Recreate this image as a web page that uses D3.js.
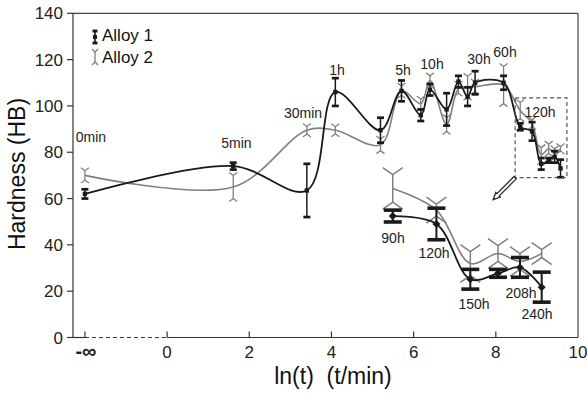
<!DOCTYPE html>
<html>
<head>
<meta charset="utf-8">
<script src="https://cdn.jsdelivr.net/npm/d3@7"></script>
<style>
  body { margin: 0; background: #fff; }
  svg { display: block; font-family: "Liberation Sans", Arial, sans-serif; }
</style>
</head>
<body>
<div id="chart"></div>
<script>
// ageing time in minutes (0 is plotted at the "-inf" position)
const minutes = [0, 5, 30, 60, 180, 300, 480, 600, 900, 1200, 1500, 1800, 3600, 5400, 7200, 9000, 10800, 12480, 14400];
const alloy1 = [62, 74, 63.5, 106, 89.5, 106.5, 96, 107, 98.5, 110.5, 104, 110, 110, 91, 89, 75, 76.5, 78, 73];
const alloy1Err = [2, 1.5, 11.5, 6, 5.4, 4.5, 2.5, 2.5, 7, 2.5, 4, 5, 3, 1.5, 4, 2.5, 1, 2.5, 3.8];
const alloy2 = [70, 65, 89.5, 89.5, 83.2, 106.6, 101, 111, 92, 107.5, 108.3, 108.3, 109, 98, 92.5, 79, 81.5, 79.5, 81.5];
const alloy2Err = [2, 5, 1.6, 1.5, 2.5, 2, 2, 2, 3, 2, 4.5, 2, 8, 3.5, 1.5, 3, 2, 2, 1];

// text labels in the main plot and in the zoomed inset
const mainLabels = [
  {t: '0min', m: 0}, {t: '5min', m: 5}, {t: '30min', m: 30}, {t: '1h', m: 60},
  {t: '5h', m: 300}, {t: '10h', m: 600}, {t: '30h', m: 1800}, {t: '60h', m: 3600}, {t: '120h', m: 7200}
];
const insetLabels = ['90h', '120h', '150h', '208h', '240h'];

const xTicks = [-2, 0, 2, 4, 6, 8, 10];
const yTicks = [0, 20, 40, 60, 80, 100, 120, 140];

// zoom window (data units) that the inset enlarges
const zoomX = [8.47, 9.73];
const zoomY = [69, 103.5];

const W = 587, H = 394;
const NEG_INF = -2;

const svg = d3.select('#chart').append('svg')
  .attr('width', W)
  .attr('height', H);

const x = d3.scaleLinear().domain([-2.29, 10]).range([73, 578]);
const y = d3.scaleLinear().domain([0, 140]).range([337.5, 13.3]);

// inset scales
const xi = d3.scaleLinear().domain([8.594, 9.575]).range([392.7, 541.7]);
const yi = d3.scaleLinear().domain([70, 100]).range([299, 180.5]);

const lnT = m => m === 0 ? NEG_INF : Math.log(m);

const pts1 = minutes.map((m, i) => ({x: lnT(m), v: alloy1[i], e: alloy1Err[i]}));
const pts2 = minutes.map((m, i) => ({x: lnT(m), v: alloy2[i], e: alloy2Err[i]}));

const c1 = '#1a1a1a', c2 = '#808080';

// frame
svg.append('line').attr('x1', x(-2.29)).attr('x2', x(10)).attr('y1', y(140)).attr('y2', y(140))
  .attr('stroke', '#444').attr('stroke-width', 1.2);
svg.append('line').attr('x1', x(10)).attr('x2', x(10)).attr('y1', y(140)).attr('y2', y(0))
  .attr('stroke', '#444').attr('stroke-width', 1.2);
svg.append('line').attr('x1', x(-2.29)).attr('x2', x(-2.29)).attr('y1', y(140)).attr('y2', y(0))
  .attr('stroke', '#333').attr('stroke-width', 1.2);
// bottom axis: solid, dashed between -inf and 0, then solid
svg.append('line').attr('x1', x(-2.29)).attr('x2', x(NEG_INF)).attr('y1', y(0)).attr('y2', y(0))
  .attr('stroke', '#333').attr('stroke-width', 1.2);
svg.append('line').attr('x1', x(NEG_INF)).attr('x2', x(0)).attr('y1', y(0)).attr('y2', y(0))
  .attr('stroke', '#333').attr('stroke-width', 1.2).attr('stroke-dasharray', '4,3');
svg.append('line').attr('x1', x(0)).attr('x2', x(10)).attr('y1', y(0)).attr('y2', y(0))
  .attr('stroke', '#333').attr('stroke-width', 1.2);

// y ticks
svg.selectAll('.ytick').data(yTicks).enter().append('line')
  .attr('x1', x(-2.29) - 6).attr('x2', x(-2.29))
  .attr('y1', d => y(d)).attr('y2', d => y(d))
  .attr('stroke', '#333').attr('stroke-width', 1.2);
svg.selectAll('.ylab').data(yTicks).enter().append('text')
  .attr('x', x(-2.29) - 10).attr('y', d => y(d) + 6)
  .attr('text-anchor', 'end').attr('font-size', 17).attr('fill', '#222')
  .text(d => d);

// x ticks (inside)
svg.selectAll('.xtick').data(xTicks.filter(d => d < 10)).enter().append('line')
  .attr('x1', d => x(d)).attr('x2', d => x(d))
  .attr('y1', y(0)).attr('y2', y(0) - 6)
  .attr('stroke', '#333').attr('stroke-width', 1.2);
svg.selectAll('.xlab').data(xTicks).enter().append('text')
  .attr('x', d => x(d) + (d === NEG_INF ? 1 : 0)).attr('y', 358)
  .attr('text-anchor', 'middle').attr('font-size', d => d === NEG_INF ? 20 : 17)
  .attr('font-weight', d => d === NEG_INF ? 'bold' : 'normal').attr('fill', '#222')
  .text(d => d === NEG_INF ? '-\u221E' : d);

// axis titles
svg.append('text')
  .attr('x', 333).attr('y', 384)
  .attr('text-anchor', 'middle').attr('font-size', 23).attr('fill', '#111')
  .attr('xml:space', 'preserve')
  .style('white-space', 'pre')
  .text('ln(t)  (t/min)');
svg.append('text')
  .attr('transform', 'translate(25,174) rotate(-90)')
  .attr('text-anchor', 'middle').attr('font-size', 23).attr('fill', '#111')
  .text('Hardness (HB)');

// error bar helpers
function flatBars(g, data, sx, sy, color, capW, sw) {
  const sel = g.selectAll(null).data(data).enter().append('g');
  sel.append('line')
    .attr('x1', d => sx(d.x)).attr('x2', d => sx(d.x))
    .attr('y1', d => sy(d.v + d.e)).attr('y2', d => sy(d.v - d.e))
    .attr('stroke', color).attr('stroke-width', sw);
  [1, -1].forEach(s => {
    sel.append('line')
      .attr('x1', d => sx(d.x) - capW / 2).attr('x2', d => sx(d.x) + capW / 2)
      .attr('y1', d => sy(d.v + s * d.e)).attr('y2', d => sy(d.v + s * d.e))
      .attr('stroke', color).attr('stroke-width', sw * 1.8);
  });
  return sel;
}

function forkBars(g, data, sx, sy, color, capW, capH, sw) {
  const sel = g.selectAll(null).data(data).enter().append('g');
  sel.append('line')
    .attr('x1', d => sx(d.x)).attr('x2', d => sx(d.x))
    .attr('y1', d => sy(d.v + d.e)).attr('y2', d => sy(d.v - d.e))
    .attr('stroke', color).attr('stroke-width', sw);
  sel.append('path')
    .attr('d', d => {
      const cx = sx(d.x), yt = sy(d.v + d.e), yb = sy(d.v - d.e);
      return `M${cx - capW / 2},${yt - capH}L${cx},${yt}L${cx + capW / 2},${yt - capH}` +
        `M${cx - capW / 2},${yb + capH}L${cx},${yb}L${cx + capW / 2},${yb + capH}`;
    })
    .attr('fill', 'none').attr('stroke', color).attr('stroke-width', sw);
  return sel;
}

// main curves
const line = (sx, sy) => d3.line()
  .x(d => sx(d.x)).y(d => sy(d.v))
  .curve(d3.curveCatmullRom.alpha(0.5));

const gMain = svg.append('g');
gMain.append('path').datum(pts2).attr('d', line(x, y))
  .attr('fill', 'none').attr('stroke', c2).attr('stroke-width', 1.6);
forkBars(gMain, pts2, x, y, c2, 8, 3, 1.3);
gMain.append('path').datum(pts1).attr('d', line(x, y))
  .attr('fill', 'none').attr('stroke', c1).attr('stroke-width', 1.8);
flatBars(gMain, pts1, x, y, c1, 7, 1.5);
gMain.selectAll('.m1').data(pts1).enter().append('rect')
  .attr('x', d => x(d.x) - 2.2).attr('y', d => y(d.v) - 2.2)
  .attr('width', 4.4).attr('height', 4.4).attr('fill', c1);

// point labels in main plot
const labelPos = {
  '0min': [91, 142], '5min': [236.5, 148], '30min': [303, 118], '1h': [337, 75], '5h': [403, 75],
  '10h': [432, 69], '30h': [479, 64], '60h': [505, 57], '120h': [540, 117]
};
svg.selectAll('.plab').data(mainLabels).enter().append('text')
  .attr('x', d => labelPos[d.t][0]).attr('y', d => labelPos[d.t][1])
  .attr('text-anchor', 'middle').attr('font-size', 14).attr('fill', '#222')
  .text(d => d.t);

// dashed zoom box + arrow
const bx0 = x(zoomX[0]), bx1 = x(zoomX[1]), by0 = y(zoomY[1]), by1 = y(zoomY[0]);
svg.append('rect')
  .attr('x', bx0).attr('y', by0).attr('width', bx1 - bx0).attr('height', by1 - by0)
  .attr('fill', 'none').attr('stroke', '#555').attr('stroke-width', 1.2)
  .attr('stroke-dasharray', '4,3');

(function arrow() {
  const sx = bx0, sy = by1, ex = bx0 - 22, ey = by1 + 22;
  const len = Math.hypot(ex - sx, ey - sy);
  const ux = (ex - sx) / len, uy = (ey - sy) / len, px = -uy, py = ux;
  const hw = 1.6, hh = 7, hwid = 3.2;
  const bxp = ex - ux * hh, byp = ey - uy * hh;
  const p = [
    [sx + px * hw, sy + py * hw], [bxp + px * hw, byp + py * hw], [bxp + px * hwid, byp + py * hwid],
    [ex, ey], [bxp - px * hwid, byp - py * hwid], [bxp - px * hw, byp - py * hw], [sx - px * hw, sy - py * hw]
  ];
  svg.append('path').attr('d', 'M' + p.map(q => q.join(',')).join('L') + 'Z')
    .attr('fill', '#fff').attr('stroke', '#222').attr('stroke-width', 1.3);
})();

// inset (enlarged late-stage data, 90h..240h)
const late1 = pts1.slice(13), late2 = pts2.slice(13);
const gIn = svg.append('g');
gIn.append('path').datum(late2).attr('d', line(xi, yi))
  .attr('fill', 'none').attr('stroke', c2).attr('stroke-width', 1.6);
forkBars(gIn, late2, xi, yi, c2, 20, 7, 1.5);
gIn.append('path').datum(late1).attr('d', line(xi, yi))
  .attr('fill', 'none').attr('stroke', c1).attr('stroke-width', 1.8);
flatBars(gIn, late1, xi, yi, c1, 18, 2);
gIn.selectAll('.m1i').data(late1).enter().append('path')
  .attr('d', d => `M${xi(d.x)},${yi(d.v) - 4}L${xi(d.x) + 4},${yi(d.v)}L${xi(d.x)},${yi(d.v) + 4}L${xi(d.x) - 4},${yi(d.v)}Z`)
  .attr('fill', c1);

const insetPos = {'90h': [393, 243], '120h': [434, 258], '150h': [474, 309], '208h': [521, 298], '240h': [537, 319]};
svg.selectAll('.ilab').data(insetLabels).enter().append('text')
  .attr('x', d => insetPos[d][0]).attr('y', d => insetPos[d][1])
  .attr('text-anchor', 'middle').attr('font-size', 14).attr('fill', '#222')
  .text(d => d);

// legend
const lg = svg.append('g');
flatBars(lg, [{x: 0, v: 0, e: 1}], () => 95, v => 37 - v * 6, c1, 5, 1.6);
lg.append('rect').attr('x', 93).attr('y', 35).attr('width', 4).attr('height', 4).attr('fill', c1);
forkBars(lg, [{x: 0, v: 0, e: 1}], () => 95, v => 57 - v * 5, c2, 6, 3, 1.3);
lg.append('text').attr('x', 102).attr('y', 41).attr('font-size', 17).attr('fill', '#111').text('Alloy 1');
lg.append('text').attr('x', 102).attr('y', 63).attr('font-size', 17).attr('fill', '#111').text('Alloy 2');
</script>
</body>
</html>
